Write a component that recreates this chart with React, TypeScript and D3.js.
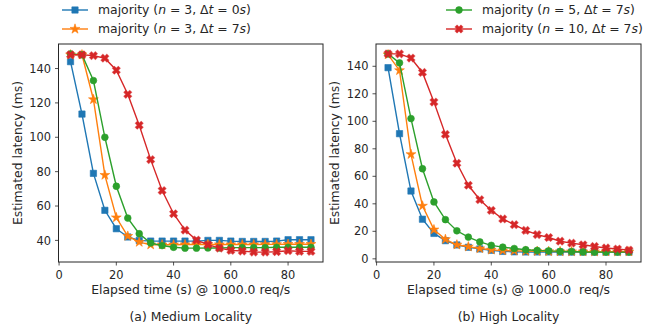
import React from "react";
import * as d3 from "d3";

const times = [4, 8, 12, 16, 20, 24, 28, 32, 36, 40, 44, 48, 52, 56, 60, 64, 68, 72, 76, 80, 84, 88];

// (a) Medium Locality
const medN3Dt0 = [144, 113.5, 79, 57.5, 46.8, 42, 40, 39.6, 39.6, 39.6, 39.6, 39.6, 40, 40, 39.6, 39.4, 39.4, 39.4, 39.6, 40.4, 40.4, 40.4];
const medN3Dt7 = [148, 148, 122, 78, 53.3, 42.5, 39, 37.5, 37.5, 37.5, 37.6, 37.6, 37.7, 37.6, 37.6, 37.6, 37.6, 37.7, 37.7, 37.8, 37.8, 37.8];
const medN5Dt7 = [148.5, 148, 133, 100, 71.5, 53, 43.9, 38.5, 37, 36, 35.5, 35.5, 35.6, 35.6, 35.8, 35.8, 35.8, 35.8, 36, 36, 36, 36];
const medN10Dt7 = [148, 148, 147.5, 146, 139, 125, 107, 87, 69, 55.5, 46, 40.2, 37.5, 35.5, 34.2, 33.8, 33.2, 33.2, 33.4, 34, 33.6, 33.6];

// (b) High Locality
const highN3Dt0 = [139, 91, 49.3, 28.8, 18.5, 13.2, 10.1, 8.4, 7.2, 6.2, 5.4, 5.1, 5, 5, 5, 4.9, 4.9, 4.9, 4.9, 4.9, 4.9, 4.9];
const highN3Dt7 = [148.5, 137, 76, 38.5, 21.2, 14.2, 10.2, 8.8, 7.5, 6.5, 6, 5.8, 5.6, 5.5, 5.4, 5.3, 5.3, 5.2, 5.2, 5.2, 5.2, 5.2];
const highN5Dt7 = [149, 142.5, 102, 65.5, 41.4, 28.5, 20.4, 15.8, 12.3, 9.8, 8.5, 7.5, 6.6, 6.1, 5.8, 5.4, 5.3, 5, 4.9, 4.9, 4.9, 4.9];
const highN10Dt7 = [149, 149, 146, 135.5, 114, 90.5, 69.5, 53.5, 43, 35.2, 29, 24.8, 20.7, 17.6, 15.5, 12.8, 11.4, 10.2, 9, 7.9, 7.1, 6.3];

const xTicks = [0, 20, 40, 60, 80];
const yTicksA = [40, 60, 80, 100, 120, 140];
const yTicksB = [0, 20, 40, 60, 80, 100, 120, 140];

const seriesNames = ["n3dt0", "n3dt7", "n5dt7", "n10dt7"];
const colors = ["#1f77b4", "#ff7f0e", "#2ca02c", "#d62728"];
const markerKinds = ["square", "star", "circle", "x"];

const FONT = "'DejaVu Sans', sans-serif";
const TXT = "#262626";
const TICK_FS = 11.4;
const LABEL_FS = 12.4;

function markerPath(kind: string): string {
  const g = d3.symbol();
  if (kind === "square") return g.type(d3.symbolSquare).size(40)() as string;
  if (kind === "star") return g.type(d3.symbolStar).size(30)() as string;
  if (kind === "circle") return g.type(d3.symbolCircle).size(36)() as string;
  return g.type(d3.symbolCross).size(38)() as string;
}

function Marker({ kind, x, y, color }: { kind: string; x: number; y: number; color: string }) {
  const rot = kind === "x" ? 45 : 0;
  return (
    <path
      d={markerPath(kind)}
      transform={`translate(${x},${y}) rotate(${rot})`}
      fill={color}
      stroke={color}
      strokeOpacity={0.6}
      strokeWidth={1}
    />
  );
}

function Panel({
  left, right, top, bottom, data, yTicks, xlabel, caption,
}: {
  left: number; right: number; top: number; bottom: number;
  data: number[][]; yTicks: number[]; xlabel: string; caption: string;
}) {
  const xs = d3.extent(times) as [number, number];
  const xpad = (xs[1] - xs[0]) * 0.05;
  const x = d3.scaleLinear().domain([xs[0] - xpad, xs[1] + xpad]).range([left, right]);
  const all = data.flat();
  const ys = d3.extent(all) as [number, number];
  const ypad = (ys[1] - ys[0]) * 0.05;
  const y = d3.scaleLinear().domain([ys[0] - ypad, ys[1] + ypad]).range([bottom, top]);
  const line = d3.line<number>().x((_, i) => x(times[i])).y((d) => y(d));
  const cx = (left + right) / 2;
  return (
    <g>
      {data.map((s, k) => (
        <g key={seriesNames[k]}>
          <path d={line(s) as string} fill="none" stroke={colors[k]} strokeWidth={1.4} />
          {s.map((v, i) => (
            <Marker key={i} kind={markerKinds[k]} x={x(times[i])} y={y(v)} color={colors[k]} />
          ))}
        </g>
      ))}
      <rect x={left} y={top} width={right - left} height={bottom - top} fill="none" stroke={TXT} strokeWidth={1} />
      {xTicks.map((t) => (
        <g key={"x" + t}>
          <line x1={x(t)} x2={x(t)} y1={bottom} y2={bottom + 3.5} stroke={TXT} strokeWidth={0.8} />
          <text x={x(t)} y={bottom + 17.3} textAnchor="middle" fontSize={TICK_FS} fontFamily={FONT} fill={TXT}>{t}</text>
        </g>
      ))}
      {yTicks.map((t) => (
        <g key={"y" + t}>
          <line x1={left - 3.5} x2={left} y1={y(t)} y2={y(t)} stroke={TXT} strokeWidth={0.8} />
          <text x={left - 7.5} y={y(t) + 4.1} textAnchor="end" fontSize={TICK_FS} fontFamily={FONT} fill={TXT}>{t}</text>
        </g>
      ))}
      <text x={cx} y={bottom + 32} textAnchor="middle" fontSize={LABEL_FS} fontFamily={FONT} fill={TXT} style={{ whiteSpace: "pre" }}>{xlabel}</text>
      <text x={cx} y={bottom + 59} textAnchor="middle" fontSize={LABEL_FS} fontFamily={FONT} fill={TXT}>{caption}</text>
      <text
        transform={`translate(${left - 37},${(top + bottom) / 2}) rotate(-90)`}
        textAnchor="middle" fontSize={LABEL_FS} fontFamily={FONT} fill={TXT}
      >Estimated latency (ms)</text>
    </g>
  );
}

function LegendLabel({ n, dt, x, y }: { n: string; dt: string; x: number; y: number }) {
  return (
    <text x={x} y={y} fontSize={LABEL_FS} fontFamily={FONT} fill={TXT} style={{ whiteSpace: "pre" }}>
      <tspan>majority (</tspan>
      <tspan fontStyle="italic">n</tspan>
      <tspan>{" = " + n + ", Δ"}</tspan>
      <tspan fontStyle="italic">t</tspan>
      <tspan>{" = " + dt}</tspan>
      <tspan fontStyle="italic">s</tspan>
      <tspan>)</tspan>
    </text>
  );
}

const legendN = ["3", "3", "5", "10"];
const legendDt = ["0", "7", "7", "7"];

export default function App() {
  const legendPos = [
    { x: 62, y: 10 },
    { x: 62, y: 29 },
    { x: 446, y: 10 },
    { x: 446, y: 29 },
  ];
  return (
    <svg width={653} height={333} style={{ position: "absolute", left: 0, top: 0, background: "#fff" }}>
      <Panel left={58.5} right={323} top={44} bottom={262}
        data={[medN3Dt0, medN3Dt7, medN5Dt7, medN10Dt7]} yTicks={yTicksA}
        xlabel="Elapsed time (s) @ 1000.0 req/s" caption="(a) Medium Locality" />
      <Panel left={376} right={641} top={44} bottom={262}
        data={[highN3Dt0, highN3Dt7, highN5Dt7, highN10Dt7]} yTicks={yTicksB}
        xlabel="Elapsed time (s) @ 1000.0  req/s" caption="(b) High Locality" />
      {legendPos.map((p, k) => (
        <g key={"lg" + k}>
          <line x1={p.x} x2={p.x + 26} y1={p.y} y2={p.y} stroke={colors[k]} strokeWidth={1.4} />
          <Marker kind={markerKinds[k]} x={p.x + 13} y={p.y} color={colors[k]} />
          <LegendLabel n={legendN[k]} dt={legendDt[k]} x={p.x + 36} y={p.y + 4.3} />
        </g>
      ))}
    </svg>
  );
}
